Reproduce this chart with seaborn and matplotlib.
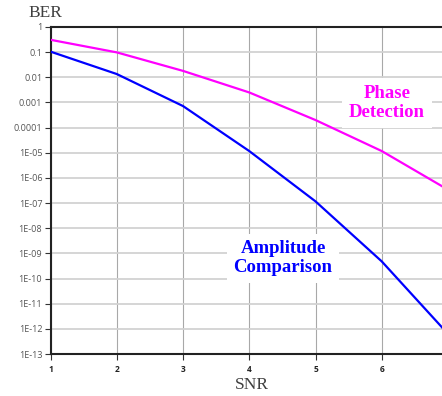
import numpy as np
import pandas as pd
import matplotlib
matplotlib.use("Agg")
import matplotlib.pyplot as plt
import seaborn as sns

# Signal-to-noise ratio sample points
snr = [1, 2, 3, 4, 5, 6, 7]

# Bit error rate for each detection scheme
ber_phase = [3.1e-1, 9.8e-2, 1.8e-2, 2.5e-3, 2.0e-4, 1.17e-5, 3.4e-7]
ber_amplitude = [1.05e-1, 1.35e-2, 7.2e-4, 1.17e-5, 1.17e-7, 4.8e-10, 6.3e-13]

series_names = ["Phase\nDetection", "Amplitude\nComparison"]
series_colors = ["#ff00ff", "#0000ff"]

y_tick_labels = ["1", "0.1", "0.01", "0.001", "0.0001", "1E-05", "1E-06",
                 "1E-07", "1E-08", "1E-09", "1E-10", "1E-11", "1E-12", "1E-13"]
x_tick_labels = ["1", "2", "3", "4", "5", "6"]

df = pd.DataFrame({
    "SNR": snr * 2,
    "BER": ber_phase + ber_amplitude,
    "scheme": [series_names[0]] * len(snr) + [series_names[1]] * len(snr),
})

sns.set_theme(style="white")
plt.rcParams["font.family"] = ["Open Sans", "DejaVu Sans"]

W, H = 442, 396
fig = plt.figure(figsize=(W / 100, H / 100), dpi=100)
left_px, right_px, top_px, bottom_px = 50.5, 448.0, 27.0, 354.0
ax = fig.add_axes([left_px / W, 1 - bottom_px / H,
                   (right_px - left_px) / W, (bottom_px - top_px) / H])

sns.lineplot(data=df, x="SNR", y="BER", hue="scheme",
             palette=dict(zip(series_names, series_colors)),
             linewidth=1.6, legend=False, ax=ax, zorder=3)

ax.set_yscale("log")
ax.set_xlim(1, 7)
ax.set_ylim(1e-13, 1)

ax.set_yticks(10.0 ** -np.arange(len(y_tick_labels)))
ax.set_yticklabels(y_tick_labels)
ax.yaxis.set_minor_locator(matplotlib.ticker.NullLocator())
ax.set_xticks([float(v) for v in x_tick_labels])
ax.set_xticklabels(x_tick_labels, fontweight="bold")

ax.tick_params(axis="y", which="major", direction="out", length=4, width=0.8,
               color="#333333", labelsize=6.5, labelcolor="#555555", pad=2,
               left=True)
ax.tick_params(axis="x", which="major", direction="out", length=4, width=0.8,
               color="#333333", labelsize=6, labelcolor="#222222", pad=4,
               bottom=True)

# Decade lines and unit SNR lines
ax.grid(False)
ax.yaxis.grid(True, color="#d2d2d2", linewidth=1.3, zorder=0)
ax.xaxis.grid(True, color="#a8a8a8", linewidth=0.8, zorder=0)
ax.set_axisbelow(True)

for side in ["left", "bottom", "top"]:
    ax.spines[side].set_visible(True)
    ax.spines[side].set_color("#222222")
    ax.spines[side].set_linewidth(1.5)
ax.spines["right"].set_visible(False)

ax.set_xlabel("")
ax.set_ylabel("")

serif = ["Liberation Serif", "DejaVu Serif"]
fig.text(45 / W, 1 - 13 / H, "BER", family=serif, fontsize=12.5,
         color="#404040", ha="center", va="center")
fig.text(252 / W, 1 - 385 / H, "SNR", family=serif, fontsize=12.5,
         color="#404040", ha="center", va="center")

box = dict(boxstyle="square,pad=0.35", facecolor="white", edgecolor="none")
ax.text(6.08, 10 ** -3.02, series_names[0], family=serif, fontsize=13.5,
        fontweight="bold", color=series_colors[0], ha="center", va="center",
        linespacing=1.15, bbox=box, zorder=4)
ax.text(4.51, 10 ** -9.2, series_names[1], family=serif, fontsize=13.5,
        fontweight="bold", color=series_colors[1], ha="center", va="center",
        linespacing=1.15, bbox=box, zorder=4)

fig.savefig("out.png", dpi=100)
